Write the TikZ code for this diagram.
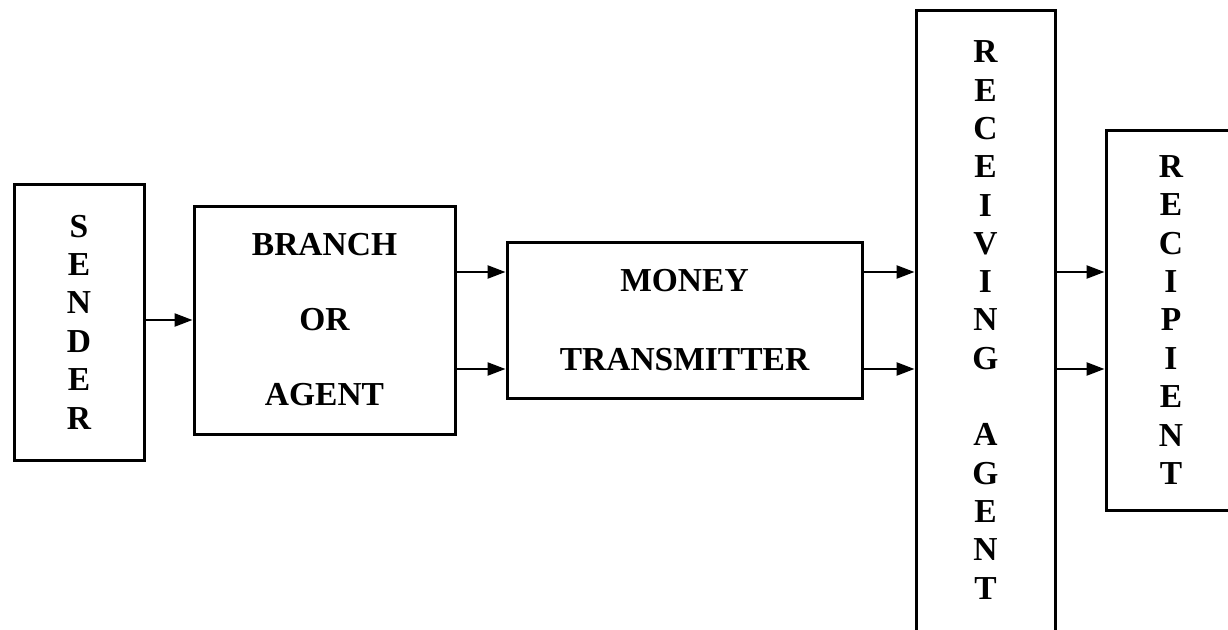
\documentclass[tikz,border=0pt]{standalone}
\usepackage{fontspec}
\setmainfont{Liberation Serif}
\usetikzlibrary{arrows.meta}
\begin{document}
\begin{tikzpicture}[x=1pt,y=-1pt,
  box/.style={draw,line width=3pt,inner sep=0pt,align=center,
    font=\fontsize{33.5}{38.4}\selectfont\bfseries},
  arr/.style={line width=2.4pt,-{Triangle[length=18pt,width=13pt]}}]
\useasboundingbox (0,0) rectangle (1228,629);
\node[box,minimum width=130pt,minimum height=276pt] (sender) at (79,322)
  {S\\E\\N\\D\\E\\R};
\node[box,minimum width=261pt,minimum height=228pt,
  font=\fontsize{33.5}{75}\selectfont\bfseries] (branch) at (324.5,320)
  {BRANCH\\OR\\AGENT};
\node[box,minimum width=355pt,minimum height=156pt,
  font=\fontsize{33.5}{79}\selectfont\bfseries] (mt) at (684.5,320)
  {MONEY\\TRANSMITTER};
\node[box,minimum width=139pt,minimum height=640pt] (ra) at (985.5,330) {};
\node[font=\fontsize{33.5}{38.3}\selectfont\bfseries,align=center] (ratext) at (985.5,320)
  {R\\E\\C\\E\\I\\V\\I\\N\\G\\[38.3pt]A\\G\\E\\N\\T};
\node[box,minimum width=130pt,minimum height=380pt] (rec) at (1171,320)
  {R\\E\\C\\I\\P\\I\\E\\N\\T};
\draw[arr] (sender.east |- 0,320) -- (branch.west |- 0,320);
\draw[arr] (branch.east |- 0,272) -- (mt.west |- 0,272);
\draw[arr] (branch.east |- 0,369) -- (mt.west |- 0,369);
\draw[arr] (mt.east |- 0,272) -- (ra.west |- 0,272);
\draw[arr] (mt.east |- 0,369) -- (ra.west |- 0,369);
\draw[arr] (ra.east |- 0,272) -- (rec.west |- 0,272);
\draw[arr] (ra.east |- 0,369) -- (rec.west |- 0,369);
\end{tikzpicture}
\end{document}
